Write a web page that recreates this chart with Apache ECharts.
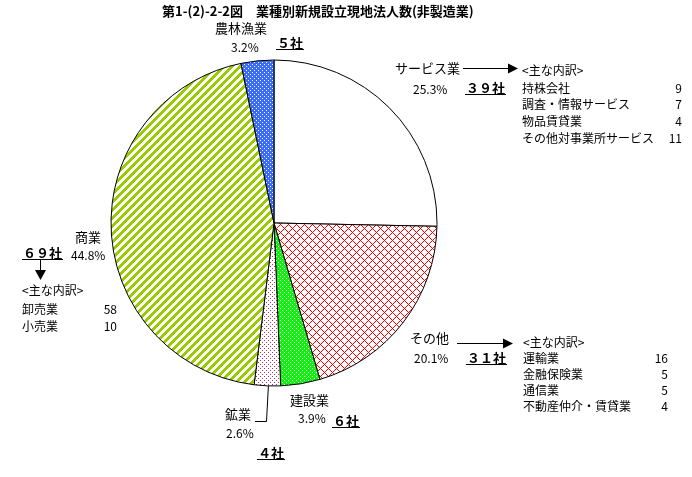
<!DOCTYPE html>
<html>
<head>
<meta charset="utf-8">
<script src="https://cdn.jsdelivr.net/npm/echarts@6/dist/echarts.min.js"></script>
<style>
html,body{margin:0;padding:0;background:#fff;}
#chart{width:692px;height:477px;}
</style>
</head>
<body>
<div id="chart"></div>
<script>
// ---- data ----
const title = '第1-(2)-2-2図　業種別新規設立現地法人数(非製造業)';
const categories = ['サービス業', 'その他', '建設業', '鉱業', '商業', '農林漁業'];
const companies = [39, 31, 6, 4, 69, 5];
const serviceBreakdownNames = ['持株会社', '調査・情報サービス', '物品賃貸業', 'その他対事業所サービス'];
const serviceBreakdownValues = [9, 7, 4, 11];
const otherBreakdownNames = ['運輸業', '金融保険業', '通信業', '不動産仲介・賃貸業'];
const otherBreakdownValues = [16, 5, 5, 4];
const commerceBreakdownNames = ['卸売業', '小売業'];
const commerceBreakdownValues = [58, 10];
const breakdownHeader = '<主な内訳>';

// ---- helpers ----
const total = companies.reduce((a, b) => a + b, 0);
const pct = companies.map(v => (v / total * 100).toFixed(1) + '%');
const fw = s => String(s).replace(/\d/g, d => String.fromCharCode(d.charCodeAt(0) + 0xFEE0));
const countText = companies.map(v => fw(v) + '社');

const FONT = '"Noto Sans CJK JP", "Noto Sans", sans-serif';
const measure = (() => {
  const c = document.createElement('canvas').getContext('2d');
  return (t, f) => { c.font = f; return c.measureText(t).width; };
})();

function pattern(w, h, bg, fg, test) {
  const c = document.createElement('canvas');
  c.width = w; c.height = h;
  const ctx = c.getContext('2d');
  ctx.fillStyle = bg; ctx.fillRect(0, 0, w, h);
  ctx.fillStyle = fg;
  for (let y = 0; y < h; y++) for (let x = 0; x < w; x++) if (test(x, y)) ctx.fillRect(x, y, 1, 1);
  return { image: c, repeat: 'repeat' };
}
const sliceColors = [
  '#ffffff',
  pattern(8, 8, '#ffffff', '#ff0000', (x, y) => (x + y) % 8 === 0 || (x - y + 8) % 8 === 0),
  pattern(4, 4, '#11f011', '#ffffff', (x, y) => (x === 0 && y === 0) || (x === 2 && y === 2)),
  pattern(4, 4, '#ffffff', '#b0306a', (x, y) => (x === 0 && y === 0) || (x === 2 && y === 2)),
  pattern(8, 8, '#ffffff', '#99cc00', (x, y) => (x + y) % 8 < 4),
  pattern(4, 4, '#3a6cf6', '#ffffff', (x, y) => (x === 0 && y === 0) || (x === 2 && y === 2))
];

// ---- annotations ----
const g = [];
function txt(t, x, y, opt) {
  opt = opt || {};
  const font = (opt.bold ? 'bold ' : '') + (opt.size || 12) + 'px ' + FONT;
  g.push({
    type: 'text', silent: true,
    style: { text: t, x: x, y: y, font: font, fill: '#000',
      textAlign: opt.align || 'left', align: opt.align || 'left',
      textVerticalAlign: 'middle', verticalAlign: 'middle' }
  });
  return measure(t, font);
}
function line(pts) {
  g.push({ type: 'polyline', silent: true, shape: { points: pts },
    style: { stroke: '#000', lineWidth: 1, fill: null } });
}
function tri(pts) {
  g.push({ type: 'polygon', silent: true, shape: { points: pts }, style: { fill: '#000' } });
}
function count(i, x, y) {
  const w = txt(countText[i], x, y, { bold: true, size: 13 });
  line([[x - 1, y + 6.5], [x + w + 1, y + 6.5]]);
}
function list(names, values, x, rx, y0, dy, y1) {
  txt(breakdownHeader, x, y0);
  names.forEach((n, k) => {
    txt(n, x, y1 + k * dy);
    txt(String(values[k]), rx, y1 + k * dy, { align: 'right' });
  });
}

txt(title, 162, 11, { bold: true, size: 13 });

// サービス業
txt(categories[0], 395, 68, { size: 13 });
txt(pct[0], 413, 89);
count(0, 466, 88);
line([[463, 68.5], [510, 68.5]]);
tri([[508, 63.5], [518, 68.5], [508, 73.5]]);
list(serviceBreakdownNames, serviceBreakdownValues, 522, 682, 70, 16.7, 88);

// その他
txt(categories[1], 410, 338, { size: 13 });
txt(pct[1], 414, 358);
count(1, 467, 358);
line([[457, 343.5], [505, 343.5]]);
tri([[503, 338.5], [513, 343.5], [503, 348.5]]);
list(otherBreakdownNames, otherBreakdownValues, 523, 668, 342, 16.3, 358);

// 建設業
txt(categories[2], 290, 400, { size: 13 });
txt(pct[2], 298, 418);
count(2, 333, 421);

// 鉱業
txt(categories[3], 225, 414, { size: 13 });
txt(pct[3], 226, 433);
count(3, 258, 453);
line([[268.5, 384], [266.5, 421.5], [255, 421.5]]);

// 商業
txt(categories[4], 75, 237, { size: 13 });
txt(pct[4], 71, 255);
count(4, 23, 253);
line([[40.5, 260], [40.5, 272]]);
tri([[35, 270], [46, 270], [40.5, 280]]);
list(commerceBreakdownNames, commerceBreakdownValues, 22, 117, 290, 17, 309);

// 農林漁業
txt(categories[5], 215, 28, { size: 13 });
txt(pct[5], 231, 47);
count(5, 277, 43);

const chart = echarts.init(document.getElementById('chart'));
chart.setOption({
  backgroundColor: '#ffffff',
  animation: false,
  series: [{
    type: 'pie',
    center: [274, 223],
    radius: 163,
    startAngle: 90,
    clockwise: true,
    silent: true,
    label: { show: false },
    labelLine: { show: false },
    itemStyle: { borderColor: '#000', borderWidth: 1 },
    data: categories.map((c, i) => ({ name: c, value: companies[i], itemStyle: { color: sliceColors[i] } }))
  }],
  graphic: g
});
</script>
</body>
</html>
